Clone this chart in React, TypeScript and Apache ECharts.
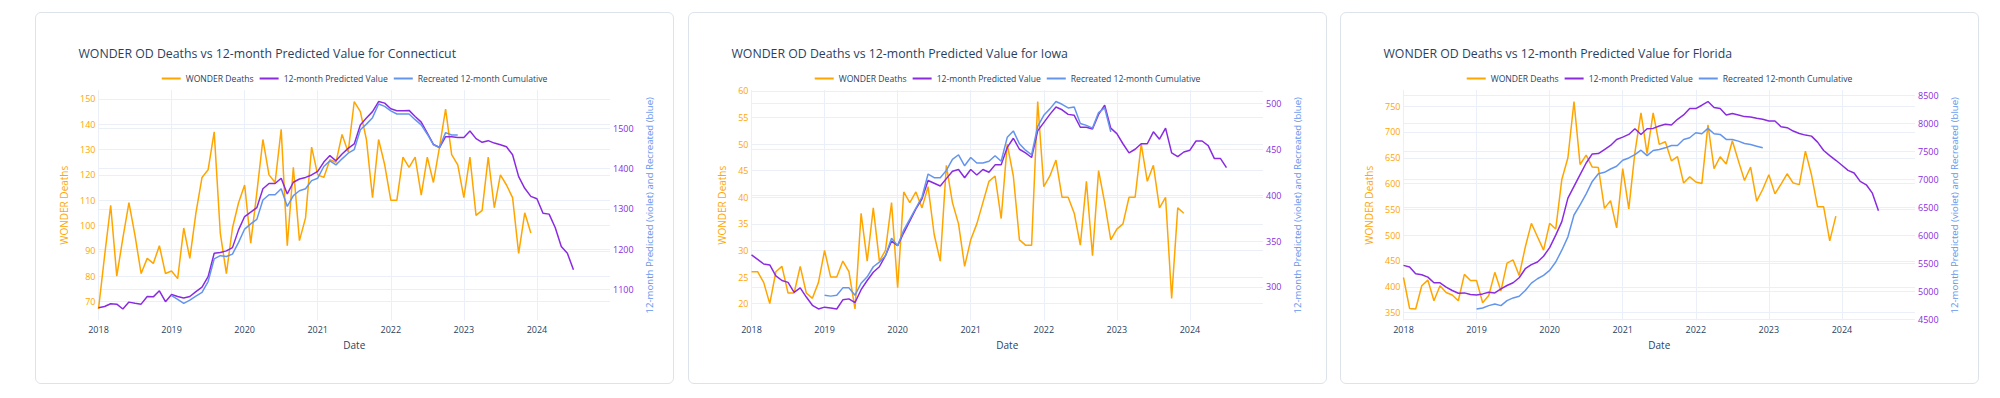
import React, { useEffect, useRef } from "react";
import * as echarts from "echarts";

const FONT = '"Open Sans", verdana, arial, sans-serif';
const ORANGE = "#FFA500";
const VIOLET = "#8A2BE2";
const BLUE = "#6495ED";
const TEXT = "#2a3f5f";
const GRID = "#EBF0F8";

// Monthly categories 2018-01 .. 2025-01 (the x range of the reference)
const MONTHS: string[] = [];
for (let y = 2018; y <= 2025; y++) {
  for (let m = 1; m <= 12; m++) {
    if (y === 2025 && m > 1) break;
    MONTHS.push(`${y}-${String(m).padStart(2, "0")}`);
  }
}
const YEAR_TICKS = ["2018", "2019", "2020", "2021", "2022", "2023", "2024"];
const RECREATED_START = "2019-01";

const SERIES_NAMES = ["WONDER Deaths", "12-month Predicted Value", "Recreated 12-month Cumulative"];

// ---------- Connecticut ----------
const ctWonder = [
  67, 88, 108, 80, 95, 109, 96, 81, 87, 85, 92, 81,
  82, 79, 99, 87, 105, 119, 122, 137, 97, 81, 99, 109,
  116, 93, 113, 134, 120, 117, 138, 92, 123, 94, 103, 131,
  120, 119, 126, 125, 136, 129, 149, 145, 134, 111, 134, 124,
  110, 110, 127, 123, 127, 112, 127, 117, 131, 146, 128, 124,
  111, 127, 104, 106, 127, 107, 120, 116, 111, 89, 105, 97,
];
const ctPredicted = [
  1055, 1058, 1065, 1064, 1052, 1069, 1066, 1064, 1083, 1082, 1097, 1070,
  1088, 1083, 1079, 1083, 1095, 1106, 1132, 1190, 1192, 1196, 1204, 1248,
  1281, 1292, 1303, 1350, 1363, 1363, 1376, 1337, 1366, 1374, 1378, 1384,
  1393, 1416, 1432, 1419, 1436, 1450, 1461, 1508, 1525, 1541, 1566, 1562,
  1548, 1543, 1543, 1544, 1529, 1515, 1488, 1460, 1452, 1479, 1479, 1477,
  1477, 1493, 1474, 1465, 1469, 1463, 1459, 1454, 1434, 1380, 1351, 1331,
  1325, 1289, 1287, 1254, 1207, 1190, 1149,
];
const ctRecreated = [
  1085, 1076, 1066, 1074, 1084, 1093, 1120, 1176, 1184, 1182, 1188, 1217,
  1250, 1263, 1274, 1322, 1335, 1335, 1350, 1306, 1333, 1345, 1350, 1370,
  1376, 1405, 1419, 1409, 1424, 1438, 1447, 1496, 1510, 1526, 1560, 1554,
  1543, 1535, 1535, 1535, 1521, 1508, 1485, 1459, 1452, 1489, 1483, 1483,
];

// ---------- Iowa ----------
const iaWonder = [
  26, 26, 24, 20, 26, 27, 22, 22, 27, 22, 21, 24,
  30, 25, 25, 28, 26, 19, 37, 28, 38, 28, 30, 39,
  23, 41, 39, 41, 38, 42, 33, 28, 46, 39, 35, 27,
  32, 35, 39, 43, 44, 36, 50, 44, 32, 31, 31, 58,
  42, 44, 47, 40, 40, 37, 31, 43, 29, 45, 39, 32,
  34, 35, 40, 40, 50, 43, 46, 38, 40, 21, 38, 37,
];
const iaPredicted = [
  335, 330, 325, 324, 312, 307, 305, 294, 299, 289, 280, 276,
  278, 277, 276, 286, 287, 283, 297, 307, 316, 322, 334, 350,
  345, 359, 372, 385, 396, 416, 413, 410, 418, 426, 428, 419,
  428, 422, 428, 425, 433, 433, 452, 462, 450, 446, 441, 470,
  479, 488, 496, 493, 488, 487, 474, 474, 472, 488, 498, 473,
  467, 456, 446, 450, 456, 456, 469, 461, 473, 446, 442, 447,
  449, 459, 459, 454, 440, 440, 430,
];
const iaRecreated = [
  291, 290, 291, 299, 299, 291, 304, 311, 322, 327, 334, 353,
  345, 362, 374, 386, 398, 423, 419, 419, 427, 439, 444, 432,
  441, 435, 435, 437, 443, 437, 463, 470, 456, 449, 444, 475,
  487, 494, 502, 499, 495, 496, 478, 476, 473, 490, 495, 469,
];

// ---------- Florida ----------
const flWonder = [
  418, 358, 357, 402, 413, 373, 402, 389, 384, 373, 424, 412,
  412, 369, 383, 428, 392, 446, 452, 422, 477, 523, 497, 471,
  523, 512, 608, 650, 759, 637, 655, 632, 631, 552, 567, 514,
  629, 551, 660, 737, 658, 737, 676, 681, 644, 652, 601, 613,
  603, 600, 714, 629, 652, 638, 683, 644, 606, 632, 566, 589,
  617, 580, 599, 619, 601, 598, 663, 617, 555, 555, 489, 537,
];
const flPredicted = [
  5464, 5434, 5314, 5296, 5254, 5153, 5153, 5075, 5015, 4967, 4973, 4943,
  4937, 4955, 4985, 4973, 5045, 5105, 5153, 5243, 5404, 5476, 5524, 5626,
  5781, 6003, 6243, 6662, 6871, 7081, 7290, 7452, 7458, 7530, 7602, 7710,
  7751, 7799, 7901, 7799, 7901, 7907, 7949, 7979, 7967, 8069, 8147, 8260,
  8260, 8320, 8386, 8278, 8260, 8147, 8171, 8147, 8117, 8111, 8087, 8069,
  8039, 8039, 7937, 7919, 7859, 7817, 7787, 7769, 7662, 7512, 7422, 7338,
  7249, 7159, 7111, 6961, 6901, 6752, 6440,
];
const flRecreated = [
  4686, 4704, 4746, 4776, 4746, 4835, 4883, 4913, 5015, 5147, 5225, 5284,
  5374, 5524, 5734, 5973, 6362, 6542, 6740, 6961, 7099, 7123, 7183, 7231,
  7338, 7380, 7440, 7518, 7422, 7512, 7530, 7560, 7602, 7602, 7710, 7740,
  7829, 7811, 7907, 7811, 7799, 7710, 7710, 7680, 7638, 7620, 7590, 7560,
];

type Panel = {
  state: string;
  wonder: number[];
  predicted: number[];
  recreated: number[];
  leftStep: number;
  rightStep: number;
};

const PANELS: Panel[] = [
  { state: "Connecticut", wonder: ctWonder, predicted: ctPredicted, recreated: ctRecreated, leftStep: 10, rightStep: 100 },
  { state: "Iowa", wonder: iaWonder, predicted: iaPredicted, recreated: iaRecreated, leftStep: 5, rightStep: 50 },
  { state: "Florida", wonder: flWonder, predicted: flPredicted, recreated: flRecreated, leftStep: 50, rightStep: 500 },
];

const isYearTick = (_i: number, v: string) =>
  v.endsWith("-01") && YEAR_TICKS.indexOf(v.slice(0, 4)) >= 0;

// plotly-like autorange: data fills 90% of the axis
function padRange(vals: number[]) {
  const lo = Math.min(...vals);
  const hi = Math.max(...vals);
  const pad = (hi - lo) / 18;
  return [lo - pad, hi + pad];
}

const stepFormatter = (step: number) => (v: number) =>
  Math.abs(v / step - Math.round(v / step)) < 1e-6 ? String(Math.round(v)) : "";

function buildOption(p: Panel) {
  const [lMin, lMax] = padRange(p.wonder);
  const [rMin, rMax] = padRange([...p.predicted, ...p.recreated]);
  const startIdx = MONTHS.indexOf(RECREATED_START);
  const recreatedData = MONTHS.map((_, i) =>
    i >= startIdx && i - startIdx < p.recreated.length ? p.recreated[i - startIdx] : null
  );
  const valueAxisBase = {
    type: "value",
    axisLine: { show: false },
    axisTick: { show: false },
    nameLocation: "middle",
    splitLine: { show: true, showMinLine: false, showMaxLine: false, lineStyle: { color: GRID, width: 1 } },
  };
  return {
    animation: false,
    textStyle: { fontFamily: FONT },
    title: {
      text: `WONDER OD Deaths vs 12-month Predicted Value for ${p.state}`,
      left: 37.5,
      top: 29,
      textStyle: { fontSize: 12.3, fontWeight: "normal", color: TEXT, fontFamily: FONT },
    },
    legend: {
      data: SERIES_NAMES,
      top: 56,
      left: "center",
      icon: "rect",
      itemWidth: 19,
      itemHeight: 2,
      itemGap: 6,
      textStyle: { fontSize: 8.6, color: TEXT, fontFamily: FONT },
    },
    grid: { left: 62.5, right: 63, top: 77, bottom: 62.5 },
    xAxis: {
      type: "category",
      data: MONTHS,
      boundaryGap: false,
      axisLine: { show: false },
      axisTick: { show: false },
      axisLabel: {
        interval: isYearTick,
        formatter: (v: string) => v.slice(0, 4),
        color: TEXT,
        fontSize: 9,
        margin: 4,
        fontFamily: FONT,
      },
      splitLine: { show: true, interval: isYearTick, lineStyle: { color: GRID, width: 1 } },
      name: "Date",
      nameLocation: "middle",
      nameGap: 19,
      nameTextStyle: { fontSize: 10, color: TEXT, fontFamily: FONT },
    },
    yAxis: [
      {
        ...valueAxisBase,
        position: "left",
        min: lMin,
        max: lMax,
        minInterval: p.leftStep,
        maxInterval: p.leftStep,
        name: "WONDER Deaths",
        nameGap: 24.5,
        nameTextStyle: { fontSize: 10, color: ORANGE, fontFamily: FONT },
        axisLabel: { color: ORANGE, fontSize: 9, margin: 3, fontFamily: FONT, formatter: stepFormatter(p.leftStep) },
      },
      {
        ...valueAxisBase,
        position: "right",
        min: rMin,
        max: rMax,
        minInterval: p.rightStep,
        maxInterval: p.rightStep,
        name: "12-month Predicted (violet) and Recreated (blue)",
        nameGap: 26.5,
        nameTextStyle: { fontSize: 9.6, color: BLUE, fontFamily: FONT },
        axisLabel: { color: VIOLET, fontSize: 9, margin: 3, fontFamily: FONT, formatter: stepFormatter(p.rightStep) },
      },
    ],
    series: [
      {
        name: SERIES_NAMES[0],
        type: "line",
        yAxisIndex: 0,
        data: p.wonder,
        showSymbol: false,
        lineStyle: { color: ORANGE, width: 1.5 },
        itemStyle: { color: ORANGE },
      },
      {
        name: SERIES_NAMES[1],
        type: "line",
        yAxisIndex: 1,
        data: p.predicted,
        showSymbol: false,
        lineStyle: { color: VIOLET, width: 1.5 },
        itemStyle: { color: VIOLET },
      },
      {
        name: SERIES_NAMES[2],
        type: "line",
        yAxisIndex: 1,
        data: recreatedData,
        showSymbol: false,
        lineStyle: { color: BLUE, width: 1.5 },
        itemStyle: { color: BLUE },
      },
    ],
  };
}

function ChartPanel({ panel }: { panel: Panel }) {
  const ref = useRef<HTMLDivElement>(null);
  useEffect(() => {
    if (!ref.current) return;
    const chart = echarts.init(ref.current, undefined, { renderer: "svg" });
    chart.setOption(buildOption(panel) as any);
    return () => chart.dispose();
  }, [panel]);
  return <div ref={ref} style={{ width: 637, height: 370 }} />;
}

const PANEL_LEFTS = [27, 679.5, 1332];

export default function App() {
  return (
    <div style={{ position: "relative", width: 1984, height: 382 }}>
      {PANELS.map((p, i) => (
        <div
          key={p.state}
          style={{
            position: "absolute",
            left: PANEL_LEFTS[i],
            top: 4,
            width: 639,
            height: 372,
            boxSizing: "border-box",
            border: "1px solid #dde3eb",
            borderRadius: 6,
            background: "#fff",
            overflow: "hidden",
          }}
        >
          <ChartPanel panel={p} />
        </div>
      ))}
    </div>
  );
}
